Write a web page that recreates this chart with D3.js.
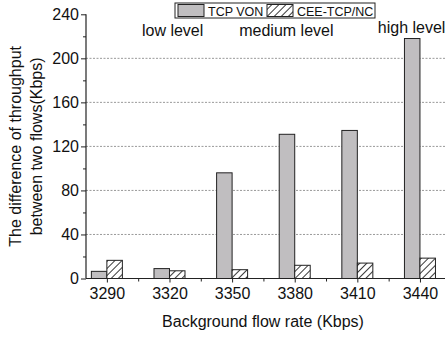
<!DOCTYPE html>
<html>
<head>
<meta charset="utf-8">
<script src="https://cdn.jsdelivr.net/npm/d3@7"></script>
<style>
  html, body { margin: 0; padding: 0; background: #fff; }
  svg { display: block; font-family: Arial, "Liberation Sans", sans-serif; }
</style>
</head>
<body>
<svg id="chart" width="445" height="337"></svg>
<script>
// Background flow rates (Kbps)
const categories = [3290, 3320, 3350, 3380, 3410, 3440];
// Difference of throughput between the two flows (Kbps)
const tcpVon = [6.5, 9, 96, 131, 134.5, 218];
const ceeTcpNc = [16.5, 7, 8, 12, 14, 18.5];
const seriesNames = ["TCP VON", "CEE-TCP/NC"];
const yTicks = [0, 40, 80, 120, 160, 200, 240];
const yMinorTicks = [20, 60, 100, 140, 180, 220];
const xMinorTicks = [3305, 3335, 3365, 3395, 3425];
const levelLabels = [
  { text: "low level", at: 3321.5 },
  { text: "medium level", at: 3376 },
  { text: "high level", at: 3436 }
];

const svg = d3.select("#chart");
const plotLeft = 86, plotRight = 445, plotTop = 14.3, plotBottom = 278.5;

const x = d3.scaleLinear().domain([3280, 3452]).range([plotLeft, plotRight]);
const y = d3.scaleLinear().domain([0, 240]).range([plotBottom, plotTop]);
const barW = 15.5;

// hatch pattern for the second series
const defs = svg.append("defs");
const pat = defs.append("pattern")
  .attr("id", "hatch").attr("patternUnits", "userSpaceOnUse")
  .attr("width", 5).attr("height", 5)
  .attr("patternTransform", "rotate(45)");
pat.append("rect").attr("width", 5).attr("height", 5).attr("fill", "#fff");
pat.append("line").attr("x1", 0.5).attr("y1", 0).attr("x2", 0.5).attr("y2", 5)
  .attr("stroke", "#222").attr("stroke-width", 0.9);

// dotted grid lines
svg.append("g").selectAll("line")
  .data(yTicks.filter(d => d > 0 && d < 240))
  .join("line")
  .attr("x1", plotLeft).attr("x2", plotRight)
  .attr("y1", d => y(d)).attr("y2", d => y(d))
  .attr("stroke", "#999").attr("stroke-width", 1)
  .attr("stroke-dasharray", "2,1.5");

// bars
const rows = categories.map((c, i) => ({ c, a: tcpVon[i], b: ceeTcpNc[i] }));
svg.append("g").selectAll("rect")
  .data(rows).join("rect")
  .attr("x", d => x(d.c) - barW).attr("width", barW)
  .attr("y", d => y(d.a)).attr("height", d => y(0) - y(d.a))
  .attr("fill", "#c0bec0").attr("stroke", "#222").attr("stroke-width", 1);
svg.append("g").selectAll("rect")
  .data(rows).join("rect")
  .attr("x", d => x(d.c)).attr("width", barW)
  .attr("y", d => y(d.b)).attr("height", d => y(0) - y(d.b))
  .attr("fill", "url(#hatch)").attr("stroke", "#222").attr("stroke-width", 1);

// y axis
const yAxis = svg.append("g").attr("transform", `translate(${plotLeft},0)`)
  .call(d3.axisLeft(y).tickValues(yTicks).tickSize(5).tickPadding(2));
svg.append("g").attr("transform", `translate(${plotLeft},0)`)
  .call(d3.axisLeft(y).tickValues(yMinorTicks).tickSize(3).tickFormat(""))
  .select(".domain").remove();

// x axis
const xAxis = svg.append("g").attr("transform", `translate(0,${plotBottom})`)
  .call(d3.axisBottom(x).tickValues(categories).tickSize(4).tickPadding(5)
    .tickFormat(d3.format("d")));
svg.append("g").attr("transform", `translate(0,${plotBottom})`)
  .call(d3.axisBottom(x).tickValues(xMinorTicks).tickSize(3).tickFormat(""))
  .select(".domain").remove();

svg.selectAll(".domain").attr("stroke", "#222").attr("stroke-width", 1.2);
svg.selectAll(".tick line").attr("stroke", "#222");
yAxis.selectAll("text").attr("font-size", 16).attr("fill", "#111");
xAxis.selectAll("text").attr("font-size", 16).attr("fill", "#111");
// axis domains without end caps
yAxis.select(".domain").attr("d", `M0,${plotTop}V${plotBottom}`);
xAxis.select(".domain").attr("d", `M${plotLeft},0H${plotRight}`);

// axis titles
svg.append("text")
  .attr("x", 263).attr("y", 327)
  .attr("text-anchor", "middle").attr("font-size", 16).attr("fill", "#111")
  .text("Background flow rate (Kbps)");
const yt = svg.append("text")
  .attr("transform", `translate(0,${(plotTop + plotBottom) / 2}) rotate(-90)`)
  .attr("text-anchor", "middle").attr("font-size", 16).attr("fill", "#111");
yt.append("tspan").attr("x", 0).attr("y", 20.5).text("The difference of throughput");
yt.append("tspan").attr("x", 0).attr("y", 42).text("between two flows(Kbps)");

// level annotations
svg.append("g").selectAll("text")
  .data(levelLabels).join("text")
  .attr("x", d => x(d.at))
  .attr("y", (d, i) => i === levelLabels.length - 1 ? 33 : 36)
  .attr("text-anchor", "middle").attr("font-size", 16).attr("fill", "#111")
  .text(d => d.text);

// legend
const lg = svg.append("g");
lg.append("rect").attr("x", 175).attr("y", 3).attr("width", 200).attr("height", 15)
  .attr("fill", "#fff").attr("stroke", "#222");
const swatches = [
  { name: seriesNames[0], fill: "#c0bec0", sx: 178, tx: 208 },
  { name: seriesNames[1], fill: "url(#hatch)", sx: 267, tx: 297 }
];
swatches.forEach(s => {
  lg.append("rect").attr("x", s.sx).attr("y", 4.5).attr("width", 26).attr("height", 12)
    .attr("fill", s.fill).attr("stroke", "#222");
  lg.append("text").attr("x", s.tx).attr("y", 15.5).attr("font-size", 12.5)
    .attr("fill", "#111").text(s.name);
});
</script>
</body>
</html>
